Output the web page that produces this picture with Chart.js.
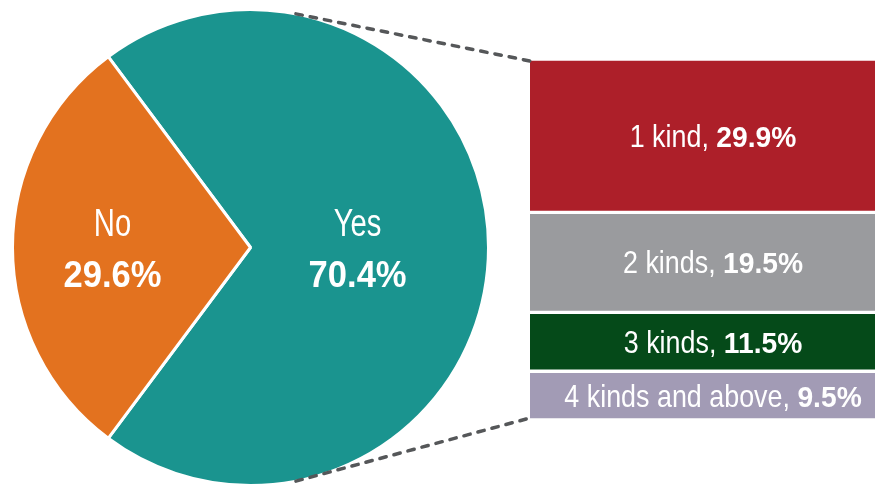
<!DOCTYPE html>
<html>
<head>
<meta charset="utf-8">
<script src="https://cdn.jsdelivr.net/npm/chart.js@4.4.1/dist/chart.umd.min.js"></script>
<style>
  html, body { margin: 0; padding: 0; background: #fff; overflow: hidden; }
  #wrap { position: relative; width: 875px; height: 487px; overflow: hidden; }
  canvas { position: absolute; left: 0; top: 0; }
</style>
</head>
<body>
<div id="wrap">
  <canvas id="pie-chart" width="875" height="487"></canvas>
  <canvas id="bar-chart" width="900" height="487"></canvas>
</div>
<script>
// data
const pieLabels = ['Yes', 'No'];
const pieValues = [70.4, 29.6];
const kindLabels = ['1 kind', '2 kinds', '3 kinds', '4 kinds and above'];
const kindValues = [29.9, 19.5, 11.5, 9.5];

const pieColors = ['#1a948f', '#e3721f'];
const kindColors = ['#ad1f29', '#9a9b9e', '#054a19', '#a29bb5'];

const SANS = '"Liberation Sans", Arial, sans-serif';

// draw mixed-font text centred on cx; sx squeezes glyphs to look condensed
function drawMixed(ctx, parts, cx, baseline) {
  let total = 0;
  parts.forEach(p => { ctx.font = p.font; p.w = ctx.measureText(p.text).width * p.sx; total += p.w; });
  let x = cx - total / 2;
  ctx.textAlign = 'left';
  ctx.textBaseline = 'alphabetic';
  parts.forEach(p => {
    ctx.save();
    ctx.translate(x, baseline);
    ctx.scale(p.sx, 1);
    ctx.font = p.font;
    ctx.fillText(p.text, 0, 0);
    ctx.restore();
    x += p.w;
  });
}

// rotate so the "No" wedge sits centred on the left
const total = pieValues.reduce((s, v) => s + v, 0);
const yesSpan = pieValues[0] / total * 360;
const noSpan = pieValues[1] / total * 360;
const rotation = 270 - yesSpan - noSpan / 2;

const labelDist = [0.45, 0.58];

const pieLabelPlugin = {
  id: 'pieLabels',
  afterDatasetsDraw(chart) {
    const ctx = chart.ctx;
    const meta = chart.getDatasetMeta(0);
    ctx.save();
    ctx.fillStyle = '#fff';
    meta.data.forEach((arc, i) => {
      const mid = (arc.startAngle + arc.endAngle) / 2;
      const r = arc.outerRadius * labelDist[i];
      const x = arc.x + Math.cos(mid) * r;
      const y = arc.y + Math.sin(mid) * r;
      drawMixed(ctx, [{ text: pieLabels[i], font: '38px ' + SANS, sx: 0.77 }], x, y - 12);
      drawMixed(ctx, [{ text: pieValues[i].toFixed(1) + '%', font: 'bold 36px ' + SANS, sx: 0.96 }], x, y + 39);
    });
    ctx.restore();
  }
};

const pieChart = new Chart(document.getElementById('pie-chart'), {
  type: 'pie',
  data: {
    labels: pieLabels,
    datasets: [{
      data: pieValues,
      backgroundColor: pieColors,
      borderColor: '#fff',
      borderWidth: 3
    }]
  },
  options: {
    responsive: false,
    animation: false,
    rotation: rotation,
    layout: { padding: { left: 11, right: 385, top: 8, bottom: 0 } },
    plugins: { legend: { display: false }, tooltip: { enabled: false } }
  },
  plugins: [pieLabelPlugin]
});

// bar-of-pie: labels + dashed connector lines
const barPlugin = {
  id: 'barLabels',
  afterDatasetsDraw(chart) {
    const ctx = chart.ctx;
    ctx.save();
    ctx.fillStyle = '#fff';
    chart.data.datasets.forEach((ds, di) => {
      const bar = chart.getDatasetMeta(di).data[0];
      const cy = (bar.y + bar.base) / 2;
      drawMixed(ctx, [
        { text: ds.label + ', ', font: '32px ' + SANS, sx: 0.84 },
        { text: ds.data[0].toFixed(1) + '%', font: 'bold 30px ' + SANS, sx: 0.94 }
      ], bar.x, cy + 11);
    });

    // connectors from pie edge to bar corners
    const arc = pieChart.getDatasetMeta(0).data[0];
    const r = arc.outerRadius;
    const a = 11 * Math.PI / 180;
    const area = chart.chartArea;
    ctx.strokeStyle = '#555759';
    ctx.lineWidth = 3.5;
    ctx.lineCap = 'round';
    ctx.setLineDash([6.5, 8]);
    ctx.beginPath();
    ctx.moveTo(arc.x + r * Math.sin(a), arc.y - r * Math.cos(a));
    ctx.lineTo(area.left, area.top + 2);
    ctx.moveTo(arc.x + r * Math.sin(a), arc.y + r * Math.cos(a));
    ctx.lineTo(area.left, area.bottom - 2);
    ctx.stroke();
    ctx.restore();
  }
};

// first dataset stacks at the bottom, so reverse
const barDatasets = kindLabels.map((label, i) => ({
  label: label,
  data: [kindValues[i]],
  backgroundColor: kindColors[i],
  borderColor: '#fff',
  borderWidth: { top: 2, bottom: 2, left: 0, right: 0 },
  borderSkipped: false,
  categoryPercentage: 1,
  barPercentage: 1
})).reverse();

new Chart(document.getElementById('bar-chart'), {
  type: 'bar',
  data: { labels: [''], datasets: barDatasets },
  options: {
    responsive: false,
    animation: false,
    layout: { padding: { left: 530, right: 4, top: 59, bottom: 67 } },
    scales: {
      x: { display: false, stacked: true },
      y: { display: false, stacked: true, min: 0, max: kindValues.reduce((s, v) => s + v, 0) }
    },
    plugins: { legend: { display: false }, tooltip: { enabled: false } }
  },
  plugins: [barPlugin]
});
</script>
</body>
</html>
